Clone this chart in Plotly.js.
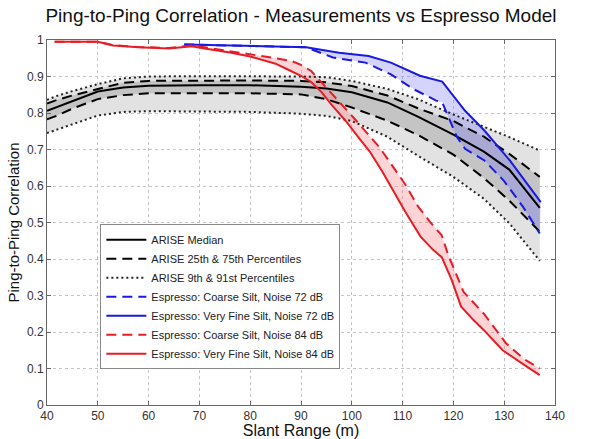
<!DOCTYPE html>
<html>
<head>
<meta charset="utf-8">
<script src="https://cdn.plot.ly/plotly-3.0.1.min.js"></script>
<style>html,body{margin:0;padding:0;background:#fff;}#chart{width:600px;height:439px;}</style>
</head>
<body>
<div id="chart"></div>
<script>
// ARISE measurement statistics
const ariseRange = [40, 42, 45, 50, 55, 60, 70, 80, 90, 95, 100, 107, 113, 120, 126, 131, 137];
const ariseMedian = [0.806, 0.817, 0.833, 0.859, 0.870, 0.875, 0.876, 0.876, 0.872, 0.867, 0.857, 0.829, 0.790, 0.741, 0.694, 0.645, 0.540];
const ariseP75 = [0.826, 0.836, 0.848, 0.866, 0.883, 0.888, 0.889, 0.889, 0.888, 0.884, 0.874, 0.848, 0.813, 0.778, 0.735, 0.688, 0.625];
const ariseP25 = [0.783, 0.793, 0.812, 0.838, 0.849, 0.854, 0.854, 0.854, 0.851, 0.838, 0.815, 0.779, 0.740, 0.686, 0.622, 0.560, 0.475];
const ariseP91 = [0.836, 0.847, 0.860, 0.879, 0.895, 0.900, 0.901, 0.901, 0.900, 0.898, 0.888, 0.866, 0.838, 0.796, 0.762, 0.734, 0.697];
const ariseP9 = [0.745, 0.755, 0.770, 0.793, 0.803, 0.805, 0.804, 0.803, 0.798, 0.792, 0.778, 0.735, 0.683, 0.625, 0.565, 0.498, 0.395];

// Espresso model, noise 72 dB
const blueCoarseX = [67, 70, 75, 80, 85, 88, 91, 92.5, 96.3, 102.7, 107.7, 112.2, 116.6, 117.8, 119.1, 120.7, 122.3, 126.1, 129.9, 133.7, 137];
const blueCoarseY = [0.988, 0.987, 0.985, 0.984, 0.983, 0.982, 0.980, 0.972, 0.952, 0.938, 0.906, 0.865, 0.834, 0.829, 0.788, 0.734, 0.702, 0.670, 0.615, 0.543, 0.470];
const blueFineX = [67, 70, 75, 80, 85, 88, 91, 97.5, 103.3, 107.7, 113.4, 117.8, 122.3, 126.1, 131.1, 137.2];
const blueFineY = [0.988, 0.987, 0.985, 0.984, 0.983, 0.982, 0.980, 0.965, 0.956, 0.938, 0.902, 0.886, 0.806, 0.752, 0.670, 0.556];

// Espresso model, noise 84 dB
const redCoarseX = [41.5, 50, 53, 58, 64, 68.5, 71, 76, 80, 85, 88, 90, 92, 94, 96, 98, 100.5, 103, 105.5, 108, 110.5, 113, 115.5, 117.7, 119, 122, 126, 130.3, 134, 137];
const redCoarseY = [0.995, 0.995, 0.986, 0.981, 0.978, 0.985, 0.980, 0.970, 0.962, 0.950, 0.943, 0.932, 0.915, 0.885, 0.853, 0.825, 0.785, 0.745, 0.705, 0.655, 0.605, 0.545, 0.500, 0.465, 0.410, 0.310, 0.250, 0.170, 0.125, 0.100];
const redFineX = [41.5, 50, 53, 58, 64, 68.5, 71, 76, 80, 85, 88, 90, 92, 94, 96, 99, 101.5, 103.5, 106, 108, 110.5, 113.5, 116, 117.7, 119.6, 121.5, 124, 126, 129.7, 133.5, 137];
const redFineY = [0.995, 0.995, 0.985, 0.980, 0.977, 0.983, 0.977, 0.966, 0.955, 0.935, 0.915, 0.902, 0.885, 0.858, 0.823, 0.775, 0.730, 0.695, 0.640, 0.590, 0.530, 0.462, 0.425, 0.405, 0.345, 0.270, 0.232, 0.205, 0.150, 0.114, 0.082];

const xTicks = [40, 50, 60, 70, 80, 90, 100, 110, 120, 130, 140];
const yTicks = [0, 0.1, 0.2, 0.3, 0.4, 0.5, 0.6, 0.7, 0.8, 0.9, 1];
const yTickText = ['0', '0.1', '0.2', '0.3', '0.4', '0.5', '0.6', '0.7', '0.8', '0.9', '1'];

const names = [
  'ARISE Median',
  'ARISE 25th & 75th Percentiles',
  'ARISE 9th & 91st Percentiles',
  'Espresso: Coarse Silt, Noise 72 dB',
  'Espresso: Very Fine Silt, Noise 72 dB',
  'Espresso: Coarse Silt, Noise 84 dB',
  'Espresso: Very Fine Silt, Noise 84 dB'
];

const BLUE = 'rgb(25,25,225)';
const RED = 'rgb(228,30,38)';
const DASH = '10px,6px';
const DOT = '2px,3px';
const none = {width: 0};

const traces = [
  // fills (no legend)
  {x: ariseRange, y: ariseP9, mode: 'lines', line: none, showlegend: false, hoverinfo: 'skip'},
  {x: ariseRange, y: ariseP91, mode: 'lines', line: none, fill: 'tonexty', fillcolor: 'rgb(226,226,226)', showlegend: false, hoverinfo: 'skip'},
  {x: ariseRange, y: ariseP25, mode: 'lines', line: none, showlegend: false, hoverinfo: 'skip'},
  {x: ariseRange, y: ariseP75, mode: 'lines', line: none, fill: 'tonexty', fillcolor: 'rgb(196,196,196)', showlegend: false, hoverinfo: 'skip'},
  {x: blueCoarseX, y: blueCoarseY, mode: 'lines', line: none, showlegend: false, hoverinfo: 'skip'},
  {x: blueFineX, y: blueFineY, mode: 'lines', line: none, fill: 'tonexty', fillcolor: 'rgba(100,100,255,0.28)', showlegend: false, hoverinfo: 'skip'},
  {x: redCoarseX, y: redCoarseY, mode: 'lines', line: none, showlegend: false, hoverinfo: 'skip'},
  {x: redFineX, y: redFineY, mode: 'lines', line: none, fill: 'tonexty', fillcolor: 'rgba(255,120,130,0.32)', showlegend: false, hoverinfo: 'skip'},
  // lines
  {x: ariseRange, y: ariseMedian, mode: 'lines', name: names[0], line: {color: '#000', width: 2}},
  {x: ariseRange, y: ariseP25, mode: 'lines', name: names[1], legendgroup: 'q', line: {color: '#000', width: 2, dash: DASH}},
  {x: ariseRange, y: ariseP75, mode: 'lines', name: names[1], legendgroup: 'q', showlegend: false, line: {color: '#000', width: 2, dash: DASH}},
  {x: ariseRange, y: ariseP9, mode: 'lines', name: names[2], legendgroup: 'p', line: {color: '#222', width: 2, dash: DOT}},
  {x: ariseRange, y: ariseP91, mode: 'lines', name: names[2], legendgroup: 'p', showlegend: false, line: {color: '#222', width: 2, dash: DOT}},
  {x: blueCoarseX, y: blueCoarseY, mode: 'lines', name: names[3], line: {color: BLUE, width: 2, dash: DASH}},
  {x: blueFineX, y: blueFineY, mode: 'lines', name: names[4], line: {color: BLUE, width: 2}},
  {x: redCoarseX, y: redCoarseY, mode: 'lines', name: names[5], line: {color: RED, width: 2, dash: DASH}},
  {x: redFineX, y: redFineY, mode: 'lines', name: names[6], line: {color: RED, width: 2}}
];

const axisCommon = {
  showline: true, mirror: 'ticks', linecolor: '#666', linewidth: 1,
  ticks: 'inside', ticklen: 4, tickcolor: '#666',
  showgrid: true, gridcolor: '#c4c4c4', griddash: 'dot', gridwidth: 1,
  zeroline: false,
  tickfont: {family: 'Arial, Liberation Sans, sans-serif', size: 12, color: '#333'}
};

const layout = {
  width: 600, height: 439,
  margin: {l: 47, r: 45, t: 40, b: 34},
  paper_bgcolor: '#fff', plot_bgcolor: '#fff',
  font: {family: 'Arial, Liberation Sans, sans-serif', color: '#222'},
  title: {text: 'Ping-to-Ping Correlation - Measurements vs Espresso Model', font: {size: 19, color: '#111'}, x: 0.5, xref: 'paper', y: 0.965, yanchor: 'middle'},
  xaxis: Object.assign({}, axisCommon, {
    range: [40, 140], tickvals: xTicks, ticktext: xTicks.map(String),
    title: {text: 'Slant Range (m)', font: {size: 16, color: '#111'}, standoff: 0}
  }),
  yaxis: Object.assign({}, axisCommon, {
    range: [0, 1], tickvals: yTicks, ticktext: yTickText,
    title: {text: 'Ping-to-Ping Correlation', font: {size: 15, color: '#111'}, standoff: 3}
  }),
  legend: {
    x: 0.105, y: 0.495, xanchor: 'left', yanchor: 'top',
    bgcolor: '#fff', bordercolor: '#888', borderwidth: 1,
    font: {size: 11, color: '#222'}, tracegroupgap: 0, itemwidth: 40
  },
  showlegend: true
};

Plotly.newPlot('chart', traces, layout, {displayModeBar: false, staticPlot: true});
</script>
</body>
</html>
